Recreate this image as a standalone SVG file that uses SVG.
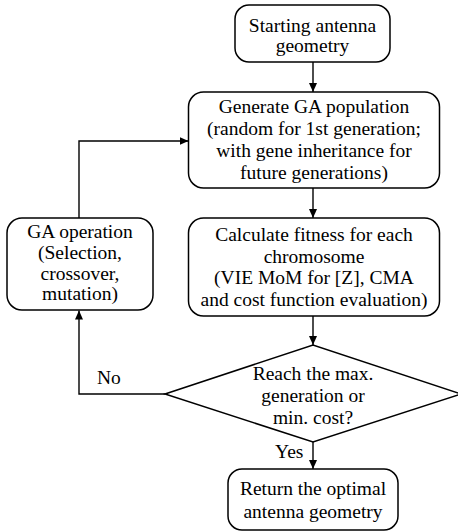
<svg xmlns="http://www.w3.org/2000/svg" width="458" height="531" viewBox="0 0 458 531">
<style>
.box{fill:#fff;stroke:#000;stroke-width:1.5}
text{font-family:'Liberation Serif','Times New Roman',Times,serif;font-size:19.5px;fill:#000}
.t{text-anchor:middle}
.c{fill:none;stroke:#000;stroke-width:1.4}
</style>
<defs>
<marker id="ah" markerUnits="userSpaceOnUse" markerWidth="9" markerHeight="8" refX="9" refY="4" orient="auto">
<path d="M0,0 L9,4 L0,8 z" fill="#000"/>
</marker>
</defs>
<rect width="458" height="531" fill="#fff"/>
<g id="connectors">
<line class="c" x1="313" y1="62" x2="313" y2="92" marker-end="url(#ah)"/>
<line class="c" x1="313" y1="188" x2="313" y2="218" marker-end="url(#ah)"/>
<line class="c" x1="313" y1="316" x2="313" y2="345" marker-end="url(#ah)"/>
<line class="c" x1="313" y1="442" x2="313" y2="469" marker-end="url(#ah)"/>
<polyline class="c" points="165,394 79,394 79,310.5" marker-end="url(#ah)"/>
<polyline class="c" points="79,218 79,141 188.5,141" marker-end="url(#ah)"/>
<text x="97" y="384">No</text>
<text x="275" y="458">Yes</text>
</g>
<g id="start">
<rect class="box" x="235" y="5" width="155" height="57" rx="14"/>
<text class="t" x="312.5" y="32">Starting antenna</text>
<text class="t" x="312.5" y="52">geometry</text>
</g>
<g id="generate">
<rect class="box" x="188.5" y="92" width="251" height="96" rx="15"/>
<text class="t" x="314" y="113">Generate GA population</text>
<text class="t" x="314" y="135">(random for 1st generation;</text>
<text class="t" x="314" y="157">with gene inheritance for</text>
<text class="t" x="314" y="179">future generations)</text>
</g>
<g id="fitness">
<rect class="box" x="188.5" y="218" width="251" height="98" rx="15"/>
<text class="t" x="314" y="241">Calculate fitness for each</text>
<text class="t" x="314" y="262.5">chromosome</text>
<text class="t" x="314" y="284">(VIE MoM for [Z], CMA</text>
<text class="t" x="314" y="305.5">and cost function evaluation)</text>
</g>
<g id="gaop">
<rect class="box" x="7" y="218" width="146" height="92" rx="15"/>
<text class="t" x="80" y="238">GA operation</text>
<text class="t" x="80" y="259">(Selection,</text>
<text class="t" x="80" y="280">crossover,</text>
<text class="t" x="80" y="300">mutation)</text>
</g>
<g id="decision">
<polygon class="box" points="165,394 313,345 461,394 313,442"/>
<text class="t" x="313" y="380">Reach the max.</text>
<text class="t" x="313" y="402">generation or</text>
<text class="t" x="313" y="424">min. cost?</text>
</g>
<g id="return">
<rect class="box" x="228" y="469" width="170" height="61" rx="14"/>
<text class="t" x="313" y="495">Return the optimal</text>
<text class="t" x="313" y="518">antenna geometry</text>
</g>
</svg>
